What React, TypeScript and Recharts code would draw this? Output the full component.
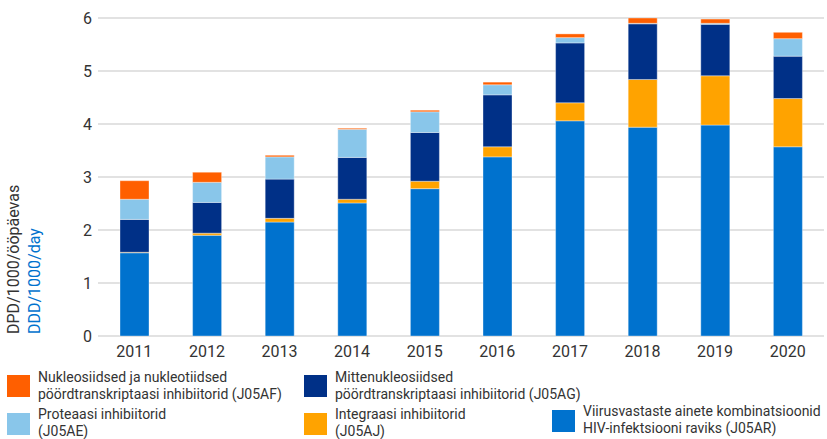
import React from "react";
import { BarChart, Bar, XAxis, YAxis, CartesianGrid } from "recharts";

const years = ["2011", "2012", "2013", "2014", "2015", "2016", "2017", "2018", "2019", "2020"];

// stacked from bottom to top
const j05ar = [1.57, 1.9, 2.15, 2.51, 2.78, 3.38, 4.06, 3.94, 3.98, 3.57];
const j05aj = [0.01, 0.04, 0.07, 0.07, 0.14, 0.19, 0.34, 0.9, 0.93, 0.91];
const j05ag = [0.62, 0.58, 0.74, 0.79, 0.92, 0.98, 1.13, 1.05, 0.97, 0.8];
const j05ae = [0.38, 0.38, 0.42, 0.53, 0.39, 0.19, 0.1, 0.01, 0.02, 0.33];
const j05af = [0.35, 0.19, 0.03, 0.02, 0.03, 0.05, 0.07, 0.1, 0.08, 0.12];

const yTicks = [0, 1, 2, 3, 4, 5, 6];

const COLORS = {
  af: "#ff5f00",
  ae: "#89c6ea",
  ag: "#003087",
  aj: "#ffa300",
  ar: "#0072ce",
};

const FONT = "Roboto, 'Noto Sans', sans-serif";
const TEXT = "#333333";

const data = years.map((year, i) => ({
  year,
  ar: j05ar[i],
  aj: j05aj[i],
  ag: j05ag[i],
  ae: j05ae[i],
  af: j05af[i],
}));

const legendItems = [
  { key: "af", lines: ["Nukleosiidsed ja nukleotiidsed", "pöördtranskriptaasi inhibiitorid (J05AF)"], sq: [7, 375], txt: [38, 369], lh: 17 },
  { key: "ag", lines: ["Mittenukleosiidsed", "pöördtranskriptaasi inhibiitorid (J05AG)"], sq: [304, 375], txt: [335, 369], lh: 17 },
  { key: "ae", lines: ["Proteaasi inhibiitorid", "(J05AE)"], sq: [7, 413], txt: [38, 406], lh: 16.5 },
  { key: "aj", lines: ["Integraasi inhibiitorid", "(J05AJ)"], sq: [304, 413], txt: [335, 406], lh: 16.5 },
  { key: "ar", lines: ["Viirusvastaste ainete kombinatsioonid", "HIV-infektsiooni raviks (J05AR)"], sq: [552, 410], txt: [583, 403], lh: 16.5 },
];

const YLabel = () => (
  <g>
    <text x={19} y={334} transform="rotate(-90, 19, 334)" fontSize={16} fill={TEXT} fontFamily={FONT}>
      DPD/1000/ööpäevas
    </text>
    <text x={40} y={334} transform="rotate(-90, 40, 334)" fontSize={16} fill={COLORS.ar} fontFamily={FONT}>
      DDD/1000/day
    </text>
  </g>
);

const App: React.FC = () => {
  return (
    <div style={{ position: "absolute", left: 0, top: 0, width: 827, height: 439, fontFamily: FONT, overflow: "hidden" }}>
      <BarChart
        width={827}
        height={439}
        data={data}
        margin={{ top: 18, right: 3, left: 0, bottom: 73 }}
        barSize={29}
      >
        <CartesianGrid vertical={false} stroke="#d9d9d9" strokeWidth={1.5} />
        <XAxis
          dataKey="year"
          height={30}
          axisLine={false}
          tickLine={false}
          tickMargin={4}
          tick={{ fontSize: 16, fill: TEXT, fontFamily: FONT }}
        />
        <YAxis
          width={98}
          domain={[0, 6]}
          ticks={yTicks}
          allowDataOverflow
          axisLine={false}
          tickLine={false}
          tickMargin={0}
          tick={{ fontSize: 16, fill: TEXT, fontFamily: FONT }}
          label={<YLabel />}
        />
        <Bar dataKey="ar" stackId="a" fill={COLORS.ar} stroke="rgba(255,255,255,0.35)" isAnimationActive={false} />
        <Bar dataKey="aj" stackId="a" fill={COLORS.aj} stroke="rgba(255,255,255,0.35)" isAnimationActive={false} />
        <Bar dataKey="ag" stackId="a" fill={COLORS.ag} stroke="rgba(255,255,255,0.35)" isAnimationActive={false} />
        <Bar dataKey="ae" stackId="a" fill={COLORS.ae} stroke="rgba(255,255,255,0.35)" isAnimationActive={false} />
        <Bar dataKey="af" stackId="a" fill={COLORS.af} stroke="rgba(255,255,255,0.35)" isAnimationActive={false} />
      </BarChart>

      {/* legend, laid out by hand in two rows */}
      {legendItems.map((item) => (
        <React.Fragment key={item.key}>
          <div
            style={{
              position: "absolute",
              left: item.sq[0],
              top: item.sq[1],
              width: 23,
              height: 22,
              background: COLORS[item.key as keyof typeof COLORS],
            }}
          />
          <div
            style={{
              position: "absolute",
              left: item.txt[0],
              top: item.txt[1],
              fontSize: 14,
              lineHeight: `${item.lh}px`,
              color: TEXT,
              whiteSpace: "nowrap",
            }}
          >
            {item.lines.map((l) => (
              <div key={l}>{l}</div>
            ))}
          </div>
        </React.Fragment>
      ))}
    </div>
  );
};

export default App;
